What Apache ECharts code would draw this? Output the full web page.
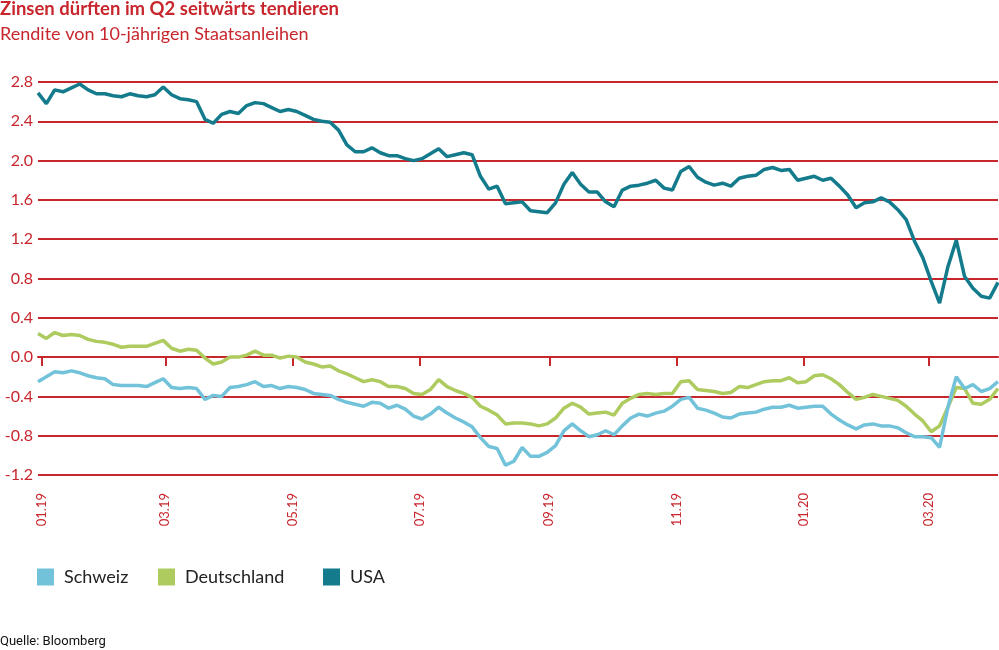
<!DOCTYPE html>
<html>
<head>
<meta charset="utf-8">
<title>Zinsen dürften im Q2 seitwärts tendieren</title>
<script src="https://cdn.jsdelivr.net/npm/echarts@6.0.0/dist/echarts.min.js"></script>
<style>
  html, body { margin: 0; padding: 0; background: #fff; }
  #chart { width: 999px; height: 650px; }
</style>
</head>
<body>
<div id="chart"></div>
<script>
const startDate = [2018, 11, 30];
const stepDays = 4;

const usa = [
  2.69, 2.58, 2.72, 2.70, 2.74, 2.78, 2.72, 2.68, 2.68, 2.66,
  2.65, 2.68, 2.66, 2.65, 2.67, 2.75, 2.67, 2.63, 2.62, 2.60,
  2.42, 2.38, 2.47, 2.50, 2.48, 2.56, 2.59, 2.58, 2.54, 2.50,
  2.52, 2.50, 2.46, 2.42, 2.40, 2.39, 2.31, 2.16, 2.09, 2.09,
  2.13, 2.08, 2.05, 2.05, 2.02, 2.00, 2.02, 2.07, 2.12, 2.04,
  2.06, 2.08, 2.06, 1.84, 1.71, 1.74, 1.56, 1.57, 1.58, 1.49,
  1.48, 1.47, 1.57, 1.76, 1.88, 1.76, 1.68, 1.68, 1.58, 1.53,
  1.70, 1.74, 1.75, 1.77, 1.80, 1.72, 1.70, 1.89, 1.94, 1.83,
  1.78, 1.75, 1.77, 1.74, 1.82, 1.84, 1.85, 1.91, 1.93, 1.90,
  1.91, 1.80, 1.82, 1.84, 1.80, 1.82, 1.74, 1.65, 1.52, 1.57,
  1.58, 1.62, 1.58, 1.50, 1.40, 1.18, 1.01, 0.77, 0.55, 0.92,
  1.19, 0.82, 0.70, 0.62, 0.60, 0.76
];

const deutschland = [
  0.24, 0.19, 0.25, 0.22, 0.23, 0.22, 0.18, 0.16, 0.15, 0.13,
  0.10, 0.11, 0.11, 0.11, 0.14, 0.17, 0.09, 0.06, 0.08, 0.07,
  -0.01, -0.07, -0.05, 0.00, 0.00, 0.02, 0.06, 0.02, 0.02, -0.01,
  0.01, 0.00, -0.05, -0.07, -0.10, -0.09, -0.14, -0.17, -0.21, -0.25,
  -0.23, -0.25, -0.30, -0.30, -0.32, -0.37, -0.38, -0.33, -0.23, -0.30,
  -0.34, -0.37, -0.41, -0.50, -0.54, -0.59, -0.68, -0.67, -0.67, -0.68,
  -0.70, -0.68, -0.62, -0.52, -0.47, -0.51, -0.58, -0.57, -0.56, -0.59,
  -0.47, -0.42, -0.38, -0.37, -0.38, -0.37, -0.37, -0.25, -0.24, -0.33,
  -0.34, -0.35, -0.37, -0.36, -0.30, -0.31, -0.28, -0.25, -0.24, -0.24,
  -0.21, -0.26, -0.25, -0.19, -0.18, -0.22, -0.28, -0.36, -0.43, -0.41,
  -0.38, -0.40, -0.42, -0.44, -0.50, -0.58, -0.65, -0.76, -0.70, -0.51,
  -0.31, -0.32, -0.47, -0.48, -0.43, -0.32
];

const schweiz = [
  -0.25, -0.20, -0.15, -0.16, -0.14, -0.16, -0.19, -0.21, -0.22, -0.28,
  -0.29, -0.29, -0.29, -0.30, -0.26, -0.22, -0.31, -0.32, -0.31, -0.32,
  -0.43, -0.39, -0.40, -0.31, -0.30, -0.28, -0.25, -0.30, -0.29, -0.32,
  -0.30, -0.31, -0.33, -0.37, -0.38, -0.39, -0.43, -0.46, -0.48, -0.50,
  -0.46, -0.47, -0.52, -0.49, -0.53, -0.60, -0.63, -0.58, -0.51, -0.57,
  -0.62, -0.66, -0.71, -0.82, -0.91, -0.93, -1.10, -1.06, -0.92, -1.01,
  -1.01, -0.97, -0.90, -0.75, -0.68, -0.75, -0.81, -0.79, -0.75, -0.79,
  -0.70, -0.62, -0.58, -0.60, -0.57, -0.55, -0.50, -0.43, -0.41, -0.52,
  -0.54, -0.57, -0.61, -0.62, -0.58, -0.57, -0.56, -0.53, -0.51, -0.51,
  -0.49, -0.52, -0.51, -0.50, -0.50, -0.58, -0.64, -0.69, -0.73, -0.69,
  -0.68, -0.70, -0.70, -0.72, -0.77, -0.81, -0.81, -0.82, -0.92, -0.51,
  -0.20, -0.32, -0.28, -0.35, -0.32, -0.25
];

// Achsenbeschriftung x: jeder zweite Monat
const monthTicks = ['2019-01-01', '2019-03-01', '2019-05-01', '2019-07-01',
  '2019-09-01', '2019-11-01', '2020-01-01', '2020-03-01'];

const red = '#c8262d';
const colors = { schweiz: '#72c3d9', deutschland: '#aecb5f', usa: '#137b8c' };

const dates = usa.map((_, i) =>
  new Date(startDate[0], startDate[1], startDate[2] + i * stepDays).getTime());
const pairs = arr => arr.map((v, i) => [dates[i], v]);
const tickTimes = monthTicks.map(s => {
  const p = s.split('-');
  return new Date(+p[0], +p[1] - 1, +p[2]).getTime();
});

const chart = echarts.init(document.getElementById('chart'));

function legendAt(name, left) {
  return {
    data: [name],
    left: left,
    top: 568,
    padding: 0,
    icon: 'rect',
    itemWidth: 17,
    itemHeight: 17,
    selectedMode: false,
    textStyle: {
      fontFamily: 'Lato',
      fontSize: 18,
      color: '#222',
      padding: [0, 0, 0, 5]
    }
  };
}

chart.setOption({
  animation: false,
  title: {
    text: 'Zinsen dürften im Q2 seitwärts tendieren',
    subtext: 'Rendite von 10-jährigen Staatsanleihen',
    left: 0,
    top: 0,
    padding: 0,
    itemGap: 6,
    textStyle: { fontFamily: 'Lato', fontSize: 18.5, fontWeight: 'bold', color: red },
    subtextStyle: { fontFamily: 'Lato', fontSize: 18, color: red }
  },
  legend: [
    legendAt('Schweiz', 37),
    legendAt('Deutschland', 158),
    legendAt('USA', 323)
  ],
  grid: { left: 38, right: 1, top: 82, bottom: 175 },
  xAxis: {
    type: 'value',
    min: dates[0],
    max: dates[dates.length - 1],
    axisLine: { lineStyle: { color: red, width: 2 } },
    axisTick: {
      show: true,
      length: 9,
      customValues: tickTimes,
      lineStyle: { color: red, width: 2 }
    },
    axisLabel: {
      customValues: tickTimes,
      rotate: 90,
      margin: 18,
      fontFamily: 'Lato',
      fontSize: 13,
      color: red,
      formatter: function (value) {
        const d = new Date(value);
        const m = String(d.getMonth() + 1).padStart(2, '0');
        return m + '.' + String(d.getFullYear()).slice(2);
      }
    },
    splitLine: { show: false }
  },
  yAxis: {
    type: 'value',
    min: -1.2,
    max: 2.8,
    interval: 0.4,
    axisLine: { show: false },
    axisTick: { show: false },
    axisLabel: {
      margin: 5,
      fontFamily: 'Lato',
      fontSize: 16,
      color: red,
      formatter: v => v.toFixed(1)
    },
    splitLine: { lineStyle: { color: red, width: 2 } }
  },
  graphic: [{
    type: 'text',
    left: 0,
    top: 635,
    style: { text: 'Quelle: Bloomberg', fontFamily: 'Roboto', fontSize: 13, fill: '#111' }
  }],
  series: [
    {
      name: 'Deutschland',
      type: 'line',
      data: pairs(deutschland),
      showSymbol: false,
      z: 2,
      itemStyle: { color: colors.deutschland },
      lineStyle: { color: colors.deutschland, width: 3.5 }
    },
    {
      name: 'USA',
      type: 'line',
      data: pairs(usa),
      showSymbol: false,
      z: 3,
      itemStyle: { color: colors.usa },
      lineStyle: { color: colors.usa, width: 3.5 }
    },
    {
      name: 'Schweiz',
      type: 'line',
      data: pairs(schweiz),
      showSymbol: false,
      z: 4,
      itemStyle: { color: colors.schweiz },
      lineStyle: { color: colors.schweiz, width: 3.5 }
    }
  ]
});
</script>
</body>
</html>
